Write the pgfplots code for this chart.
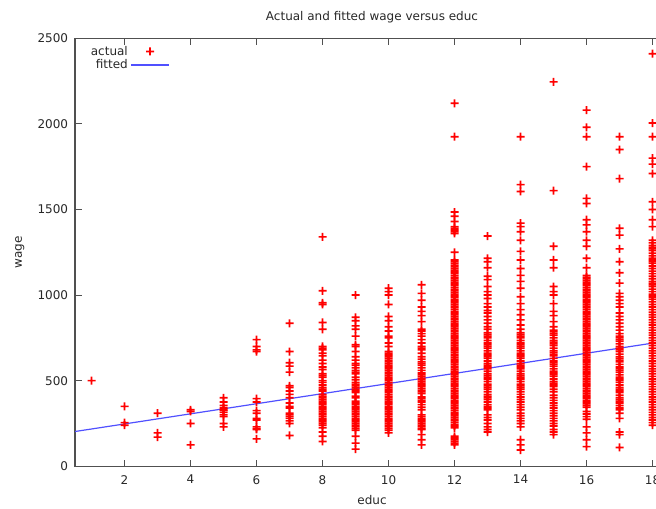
\documentclass[border=0pt]{standalone}
\usepackage{fontspec}
\setmainfont{DejaVu Sans}
\usepackage{pgfplots}
\pgfplotsset{compat=1.18}
\definecolor{fitblue}{RGB}{80,80,255}
\definecolor{axgray}{RGB}{80,80,80}
\definecolor{txtgray}{RGB}{40,40,40}
% a "+" made of two filled bars
\pgfdeclareplotmark{gplus}{%
  \pgfpathrectangle{\pgfqpoint{-3pt}{-0.62pt}}{\pgfqpoint{6pt}{1.24pt}}%
  \pgfpathrectangle{\pgfqpoint{-0.62pt}{-3pt}}{\pgfqpoint{1.24pt}{6pt}}%
  \pgfusepathqfill}

\begin{document}
\fontsize{9}{10.5}\selectfont
\begin{tikzpicture}[x=0.75pt,y=0.75pt]
\useasboundingbox (0,0) rectangle (656,508);
\begin{axis}[
  at={(56.25pt,31.3pt)}, anchor=south west,
  scale only axis, width=445.5pt, height=321pt,
  xmin=0.5, xmax=18.5, ymin=0, ymax=2500,
  xtick={2,4,...,18}, ytick={0,500,...,2500},
  tick align=inside, major tick length=5pt,
  axis line style={axgray, line width=0.8pt}, tick style={axgray, line width=0.6pt},
  tick label style={font=\fontsize{9}{10.5}\selectfont, text=txtgray},
  xticklabel style={yshift=-3.5pt},
  yticklabel style={xshift=-2pt},
  /pgf/number format/assume math mode=true,
  /pgf/number format/set thousands separator={},
  title={Actual and fitted wage versus educ},
  title style={at={(axis description cs:0.5,1.049)}, anchor=center, yshift=-6pt, text=txtgray},
  xlabel={educ}, ylabel={wage},
  xlabel style={at={(axis description cs:0.5,-0.0794)}, anchor=center, text=txtgray},
  ylabel style={at={(axis description cs:-0.093,0.5)}, anchor=center, text=txtgray},
  legend plot pos=right, legend cell align=right,
  legend style={draw=none, fill=none, at={(axis description cs:0.015,0.995)},
    anchor=north west, row sep=-2pt, text=txtgray},
  legend image code/.code={\draw[mark repeat=2,mark phase=2,#1]
    plot coordinates {(0cm,0cm) (0.5cm,0cm) (1cm,0cm)};},
]
\addplot[only marks, mark=gplus, color=red, mark options={draw=none, fill=red}] coordinates {
(1,500)
(2,350)(2,255)(2,240)
(3,310)(3,195)(3,170)
(4,330)(4,320)(4,250)(4,125)
(5,400)(5,375)(5,355)(5,340)(5,330)(5,325)(5,315)(5,300)(5,290)(5,250)(5,230)
(6,740)(6,700)(6,680)(6,670)(6,395)(6,375)(6,325)(6,310)(6,280)(6,270)(6,230)(6,220)(6,215)(6,160)
(7,835)(7,670)(7,605)(7,585)(7,550)(7,470)(7,460)(7,440)(7,420)(7,400)(7,370)(7,350)(7,340)(7,310)(7,300)(7,290)(7,280)(7,265)(7,250)(7,180)
(8,1340)(8,1025)(8,955)(8,945)(8,840)(8,800)(8,700)(8,690)(8,680)(8,660)(8,645)(8,620)(8,600)(8,580)(8,565)(8,540)(8,530)(8,520)(8,500)(8,490)(8,475)(8,460)(8,450)(8,440)(8,420)(8,410)(8,400)(8,390)(8,380)(8,370)(8,360)(8,350)(8,340)(8,330)(8,320)(8,310)(8,300)(8,290)(8,280)(8,270)(8,260)(8,250)(8,240)(8,225)(8,200)(8,175)(8,145)
(9,1000)(9,870)(9,850)(9,820)(9,800)(9,760)(9,710)(9,700)(9,670)(9,640)(9,620)(9,600)(9,590)(9,575)(9,560)(9,550)(9,540)(9,520)(9,505)(9,490)(9,480)(9,470)(9,460)(9,450)(9,440)(9,430)(9,410)(9,400)(9,380)(9,370)(9,360)(9,350)(9,340)(9,330)(9,320)(9,310)(9,300)(9,290)(9,280)(9,270)(9,260)(9,250)(9,240)(9,230)(9,220)(9,210)(9,175)(9,135)(9,100)
(10,1040)(10,1020)(10,1000)(10,945)(10,875)(10,850)(10,815)(10,790)(10,760)(10,750)(10,720)(10,700)(10,670)(10,660)(10,650)(10,640)(10,630)(10,620)(10,610)(10,600)(10,590)(10,580)(10,570)(10,560)(10,550)(10,540)(10,530)(10,520)(10,510)(10,500)(10,490)(10,480)(10,470)(10,460)(10,450)(10,440)(10,430)(10,420)(10,410)(10,400)(10,390)(10,380)(10,370)(10,360)(10,350)(10,340)(10,330)(10,320)(10,310)(10,300)(10,290)(10,280)(10,270)(10,260)(10,250)(10,240)(10,230)(10,220)(10,210)(10,195)
(11,1060)(11,1010)(11,970)(11,930)(11,905)(11,880)(11,845)(11,800)(11,790)(11,775)(11,760)(11,740)(11,720)(11,700)(11,690)(11,680)(11,660)(11,640)(11,625)(11,610)(11,600)(11,590)(11,575)(11,560)(11,545)(11,535)(11,525)(11,515)(11,505)(11,495)(11,485)(11,475)(11,465)(11,455)(11,445)(11,435)(11,425)(11,405)(11,395)(11,385)(11,375)(11,360)(11,345)(11,330)(11,300)(11,290)(11,280)(11,270)(11,260)(11,250)(11,240)(11,230)(11,220)(11,215)(11,185)(11,155)(11,125)
(12,2120)(12,1925)(12,1485)(12,1460)(12,1430)(12,1400)(12,1390)(12,1380)(12,1370)(12,1360)(12,1250)
(12,1205)(12,1195)(12,1185)(12,1175)(12,1165)(12,1155)(12,1145)(12,1135)(12,1125)(12,1115)(12,1105)(12,1095)(12,1085)(12,1075)(12,1065)(12,1055)(12,1045)(12,1035)(12,1025)(12,1015)(12,1005)(12,995)(12,985)(12,975)(12,965)(12,955)(12,945)(12,935)(12,925)(12,915)(12,905)(12,895)(12,885)(12,875)(12,865)(12,855)(12,845)(12,835)(12,825)(12,815)(12,805)(12,795)(12,785)(12,775)(12,765)(12,755)(12,745)(12,735)(12,725)(12,715)(12,705)(12,695)(12,685)(12,675)(12,665)(12,655)(12,645)(12,635)(12,625)(12,615)(12,605)(12,595)(12,585)(12,575)(12,565)(12,555)(12,545)(12,535)(12,525)(12,515)(12,505)(12,495)(12,485)(12,475)(12,465)(12,455)(12,445)(12,435)(12,425)(12,415)(12,405)(12,395)(12,385)(12,375)(12,365)(12,355)(12,345)(12,335)(12,325)(12,315)(12,305)(12,295)(12,285)(12,275)(12,265)(12,255)(12,245)(12,235)(12,225)(12,175)(12,165)(12,155)(12,145)(12,135)(12,125)
(13,1345)(13,1215)(13,1195)(13,1160)(13,1110)(13,1090)(13,1050)(13,1020)(13,1000)(13,980)(13,950)(13,930)(13,910)(13,895)(13,875)(13,855)(13,835)(13,815)(13,800)
(13,780)(13,770)(13,760)(13,750)(13,735)(13,720)(13,710)(13,700)(13,690)(13,675)(13,660)(13,650)(13,640)(13,630)(13,615)(13,600)(13,590)(13,580)(13,570)(13,555)(13,540)(13,530)(13,520)(13,510)(13,495)(13,480)(13,470)(13,460)(13,450)(13,435)(13,420)(13,410)(13,400)(13,390)(13,375)(13,360)(13,350)(13,340)(13,330)(13,300)(13,285)(13,270)(13,250)(13,230)(13,215)(13,200)
(14,1925)(14,1645)(14,1605)(14,1420)(14,1400)(14,1370)(14,1320)(14,1255)(14,1205)(14,1155)(14,1115)(14,1080)(14,1040)(14,990)(14,950)(14,915)(14,885)(14,855)(14,825)(14,800)
(14,780)(14,770)(14,760)(14,750)(14,735)(14,720)(14,710)(14,700)(14,690)(14,675)(14,660)(14,650)(14,640)(14,630)(14,615)(14,600)(14,590)(14,580)(14,570)(14,555)(14,540)(14,530)(14,520)(14,510)(14,495)(14,480)(14,470)(14,460)(14,450)(14,435)(14,420)(14,405)(14,390)(14,375)(14,360)(14,345)(14,330)(14,310)(14,295)(14,280)(14,265)(14,250)(14,230)(14,155)(14,125)(14,95)
(15,2245)(15,1610)(15,1285)(15,1205)(15,1160)(15,1050)(15,1020)(15,1000)(15,950)(15,905)(15,880)(15,845)(15,815)
(15,795)(15,785)(15,775)(15,765)(15,750)(15,735)(15,725)(15,715)(15,705)(15,690)(15,675)(15,665)(15,655)(15,645)(15,630)(15,615)(15,605)(15,595)(15,585)(15,570)(15,555)(15,545)(15,535)(15,525)(15,510)(15,495)(15,485)(15,475)(15,465)(15,450)(15,435)(15,415)(15,400)(15,385)(15,370)(15,355)(15,340)(15,325)(15,310)(15,295)(15,280)(15,265)(15,250)(15,235)(15,215)(15,200)(15,185)
(16,2080)(16,1980)(16,1925)(16,1750)(16,1565)(16,1535)(16,1440)(16,1410)(16,1370)(16,1320)(16,1285)(16,1215)(16,1160)
(16,1115)(16,1105)(16,1095)(16,1085)(16,1075)(16,1065)(16,1055)(16,1045)(16,1035)(16,1025)(16,1015)(16,1005)(16,995)(16,985)(16,975)(16,965)(16,955)(16,945)(16,935)(16,925)(16,915)(16,905)(16,895)(16,885)(16,875)(16,865)(16,855)(16,845)(16,835)(16,825)(16,815)(16,805)(16,795)(16,785)(16,775)(16,765)(16,755)(16,745)(16,735)(16,725)(16,715)(16,705)(16,695)(16,685)(16,675)(16,665)(16,655)(16,645)(16,635)(16,625)(16,615)(16,605)(16,595)(16,585)(16,575)(16,565)(16,555)(16,545)(16,535)(16,525)(16,515)(16,505)(16,495)(16,485)(16,475)(16,465)(16,455)(16,445)(16,435)(16,425)(16,415)(16,405)(16,395)(16,385)(16,375)(16,365)(16,355)(16,345)(16,320)(16,305)(16,290)(16,275)(16,230)(16,195)(16,155)(16,115)
(17,1925)(17,1850)(17,1680)(17,1390)(17,1350)(17,1270)(17,1195)(17,1130)(17,1070)(17,1010)(17,990)(17,970)(17,950)(17,930)(17,895)(17,875)(17,855)(17,835)(17,815)(17,795)(17,775)
(17,760)(17,750)(17,740)(17,730)(17,715)(17,700)(17,690)(17,680)(17,670)(17,655)(17,640)(17,630)(17,620)(17,610)(17,595)(17,580)(17,570)(17,560)(17,550)(17,535)(17,520)(17,510)(17,500)(17,490)(17,475)(17,460)(17,450)(17,440)(17,430)(17,415)(17,400)(17,390)(17,380)(17,370)(17,355)(17,340)(17,330)(17,310)(17,280)(17,200)(17,185)(17,110)
(18,2410)(18,2005)(18,1925)(18,1800)(18,1765)(18,1710)(18,1545)(18,1500)(18,1440)(18,1400)
(18,1320)(18,1305)(18,1290)(18,1280)(18,1270)(18,1260)(18,1245)(18,1230)(18,1215)(18,1205)(18,1195)(18,1185)(18,1170)(18,1155)(18,1140)(18,1125)(18,1110)(18,1095)(18,1080)(18,1070)(18,1060)(18,1050)(18,1035)(18,1020)(18,1005)(18,995)(18,985)(18,975)(18,960)(18,945)(18,930)(18,915)(18,900)(18,885)(18,870)(18,855)(18,840)(18,825)(18,810)(18,795)(18,780)(18,765)(18,750)(18,735)(18,720)(18,705)(18,690)(18,675)(18,660)(18,645)(18,630)(18,615)(18,600)(18,585)(18,570)(18,555)(18,540)(18,525)(18,510)(18,495)(18,480)(18,465)(18,450)(18,435)(18,420)(18,405)(18,390)(18,375)(18,360)(18,345)(18,330)(18,315)(18,300)(18,285)(18,270)(18,255)(18,240)
};
\addlegendentry{actual}
\addplot[fitblue, line width=0.9pt, mark=none] coordinates {(0.5,203) (18.5,734)};
\addlegendentry{fitted}
\end{axis}
\end{tikzpicture}
\end{document}
